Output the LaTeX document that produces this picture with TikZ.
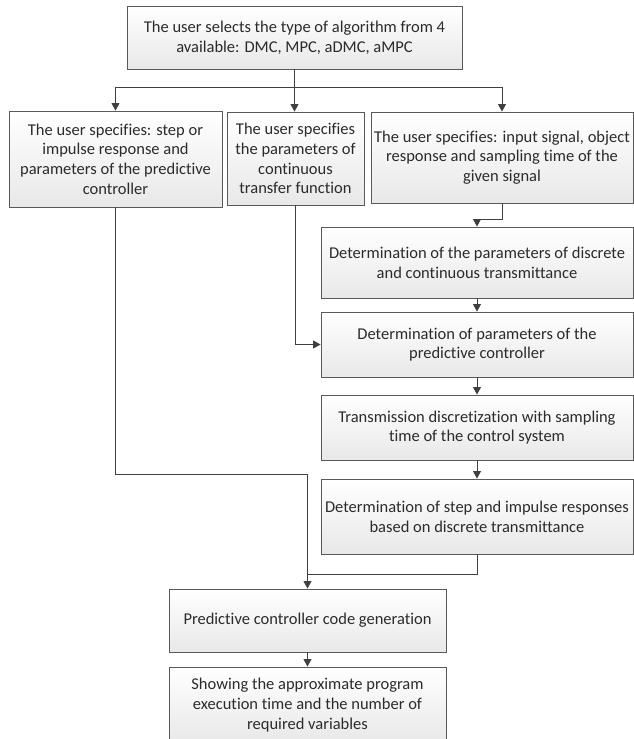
\documentclass[tikz,border=0pt]{standalone}
\usepackage{fontspec}
\setmainfont{Carlito}[Ligatures=NoCommon]
\usetikzlibrary{arrows.meta,positioning,shadows}
\definecolor{boxline}{HTML}{595959}
\definecolor{dark}{HTML}{404040}
\definecolor{txt}{HTML}{2B2B2B}
\tikzset{
  box/.style={draw=boxline, line width=0.9pt, align=center, top color=white, bottom color=black!9,
    text=txt, inner sep=2pt, font=\fontsize{16.5}{19.7}\selectfont,
    drop shadow={shadow xshift=1.2pt, shadow yshift=-1.2pt, fill=black!35, opacity=0.5}},
  arrow/.style={-{Triangle[length=7.5pt,width=8pt]}, line width=0.8pt, draw=dark},
  link/.style={line width=0.8pt, draw=dark}
}

\begin{document}
\begin{tikzpicture}[x=1pt, y=-1pt]
  \useasboundingbox (0,0) rectangle (634,739);
  \node[box, minimum width=335pt, minimum height=63pt] (sel) at (294.5,37.5) {The user selects the type of algorithm from 4\\available: DMC, MPC, aDMC, aMPC};
  \node[box, minimum width=213pt, minimum height=96pt] (stp) at (115.5,159) {The user specifies: step or\\impulse response and\\parameters of the predictive\\controller};
  \node[box, minimum width=137pt, minimum height=93pt] (ctf) at (295.5,158.5) {The user specifies\\the parameters of\\continuous\\transfer function};
  \node[box, minimum width=262pt, minimum height=91pt] (sig) at (502,157.5) {The user specifies: input signal, object\\response and sampling time of the\\given signal};
  \node[box, minimum width=312pt, minimum height=71pt] (dpt) at (477,262.5) {Determination of the parameters of discrete\\and continuous transmittance};
  \node[box, minimum width=312pt, minimum height=65pt] (dpc) at (477,344.5) {Determination of parameters of the\\predictive controller};
  \node[box, minimum width=312pt, minimum height=65pt] (dis) at (477,427.5) {Transmission discretization with sampling\\time of the control system};
  \node[box, minimum width=312pt, minimum height=75pt] (rsp) at (477,516.5) {Determination of step and impulse responses\\based on discrete transmittance};
  \node[box, minimum width=277pt, minimum height=63pt] (gen) at (307.5,620.5) {Predictive controller code generation};
  \node[box, minimum width=277pt, minimum height=76pt] (shw) at (307.5,705) {Showing the approximate program\\execution time and the number of\\required variables};

  % branching below the first box
  \coordinate (split) at (294.5,87);
  \draw[link] (sel) -- (split);
  \draw[arrow] (split) -| (stp.north);
  \draw[arrow] (split) -- (split |- ctf.north);
  \draw[arrow] (split) -| (sig.north);

  \draw[arrow] (sig.south) -- ++(0,16) -| (dpt.north);
  \draw[arrow] (dpt) -- (dpc);
  \draw[arrow] (ctf.south) |- (dpc.west);
  \draw[arrow] (dpc) -- (dis);
  \draw[arrow] (dis) -- (rsp);

  % merging into code generation
  \coordinate (joinA) at (307.5,474);
  \coordinate (joinG) at (307.5,574);
  \draw[arrow] (stp.south) |- (joinA) -- (gen.north);
  \draw[link] (rsp.south) |- (joinG);
  \draw[arrow] (gen) -- (shw);
\end{tikzpicture}
\end{document}
